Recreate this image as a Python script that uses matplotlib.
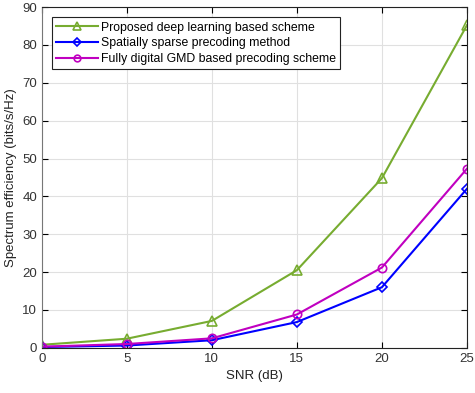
import matplotlib
matplotlib.use("Agg")
import matplotlib.pyplot as plt

plt.rcParams["font.family"] = ["Liberation Sans", "DejaVu Sans"]

snr = [0, 5, 10, 15, 20, 25]
proposed = [0.8, 2.4, 7.1, 20.5, 44.8, 85.2]
sparse = [0.2, 0.6, 2.0, 6.8, 16.0, 42.0]
gmd = [0.3, 1.0, 2.5, 8.8, 21.2, 47.3]

fig = plt.figure(figsize=(4.75, 3.93), dpi=100)
ax = fig.add_axes([0.088, 0.115, 0.895, 0.867])

ax.plot(snr, proposed, color="#77AC30", marker="^", markersize=7, mfc="none",
        mew=1.2, lw=1.5, label="Proposed deep learning based scheme")
ax.plot(snr, sparse, color="#0000FF", marker="D", markersize=5, mfc="none",
        mew=1.2, lw=1.5, label="Spatially sparse precoding method")
ax.plot(snr, gmd, color="#C000C0", marker="o", markersize=6, mfc="none",
        mew=1.2, lw=1.5, label="Fully digital GMD based precoding scheme")

ax.set_xlim(0, 25)
ax.set_ylim(0, 90)
ax.set_xticks(snr)
ax.set_yticks(range(0, 91, 10))
ax.grid(True, color="#e0e0e0", lw=0.8)
ax.set_axisbelow(True)
ax.tick_params(direction="in", top=True, right=True, labelsize=9.5,
               labelcolor="#333333", length=4)
for s in ax.spines.values():
    s.set_color("#222222")
ax.spines["left"].set_color("#777777")
ax.set_xlabel("SNR (dB)", fontsize=9.5, color="#222222")
ax.set_ylabel("Spectrum efficiency (bits/s/Hz)", fontsize=9.5, color="#222222")

leg = ax.legend(loc="upper left", fontsize=8.8, fancybox=False, framealpha=1,
                edgecolor="#222222", borderaxespad=0.85, handlelength=3.4,
                handletextpad=0.25, borderpad=0.35, labelspacing=0.3,
                markerscale=0.8)
leg.get_frame().set_linewidth(0.8)

fig.savefig("out.png", dpi=100)
